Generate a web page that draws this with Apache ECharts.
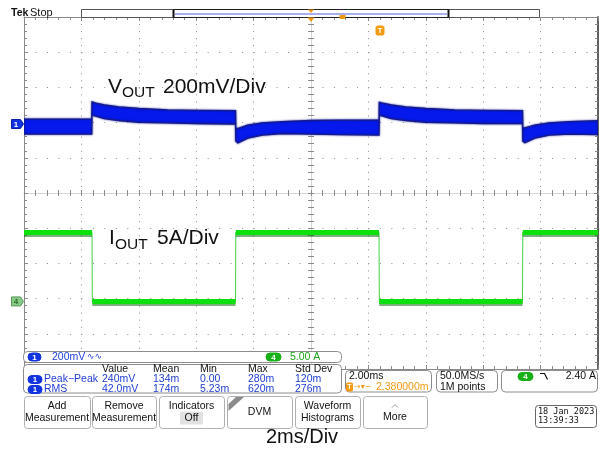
<!DOCTYPE html>
<html><head><meta charset="utf-8">
<script src="https://cdn.jsdelivr.net/npm/echarts@6/dist/echarts.min.js"></script>
<style>html,body{margin:0;padding:0;background:#fff;}#c{width:605px;height:450px;}</style>
</head><body><div id="c"></div><script>
// ---- data (time in ms, VOUT envelope in mV relative to ch1 marker, IOUT in A) ----
const timeMs = [0, 2.36, 2.37, 2.5, 2.8, 3.3, 4.0, 5.0, 6.0, 7.37, 7.38, 7.45, 7.8, 8.3, 9.0, 10.0, 11.0, 12.37, 12.38, 12.5, 12.8, 13.3, 14.0, 15.0, 16.0, 17.37, 17.38, 17.45, 17.8, 18.3, 19.0, 20.0];
const voutHi = [28, 28, 125, 118, 108, 97, 88, 80, 77, 76, -23, -26, -6, 7, 13, 20, 22, 23, 123, 118, 108, 97, 88, 80, 77, 76, -20, -22, -6, 7, 13, 19];
const voutLo = [-57, -57, 51, 45, 30, 20, 10, 6, 3, 0, -97, -108, -80, -63, -54, -57, -60, -63, 51, 45, 30, 20, 10, 6, 3, 2, -97, -106, -80, -63, -57, -60];
const ioutTime = [0, 2.37, 2.38, 7.37, 7.38, 12.37, 12.38, 17.37, 17.38, 20];
const ioutAmp = [9.8, 9.8, 0, 0, 9.8, 9.8, 0, 0, 9.8, 9.8];
const measHeader = ['Value', 'Mean', 'Min', 'Max', 'Std Dev'];
const measPP = ['240mV', '134m', '0.00', '280m', '120m'];
const measRMS = ['42.0mV', '174m', '5.23m', '620m', '276m'];
const buttons = [['Add', 'Measurement'], ['Remove', 'Measurement'], ['Indicators', 'Off'], ['DVM'], ['Waveform', 'Histograms'], ['More']];

const chart = echarts.init(document.getElementById('c'), null, {renderer: 'canvas'});
const GRID = {left: 24, top: 17, width: 574, height: 352};
const GC = '#8a8a8a';

function xAx(pos, inside, offset, lineColor, split) {
  return {type: 'value', min: 0, max: 20, interval: 2, position: pos, offset: offset,
    axisLabel: {show: false},
    axisLine: {show: true, onZero: false, lineStyle: {color: lineColor, width: 1}},
    axisTick: {show: true, inside: inside, length: offset ? 3 : 4, lineStyle: {color: GC}},
    minorTick: {show: true, splitNumber: 5, length: 3, lineStyle: {color: GC}},
    splitLine: {show: !!split, lineStyle: {color: '#8e8e8e', width: 1, type: [1, 6.04]}}};
}
function yAx(pos, inside, offset, lineColor, lw, split) {
  return {type: 'value', min: -5, max: 5, interval: 1, position: pos, offset: offset,
    axisLabel: {show: false},
    axisLine: {show: true, onZero: false, lineStyle: {color: lineColor, width: lw}},
    axisTick: {show: true, inside: inside, length: offset ? 3 : 4, lineStyle: {color: GC}},
    minorTick: {show: true, splitNumber: 5, length: 3, lineStyle: {color: GC}},
    splitLine: {show: !!split, lineStyle: {color: '#8e8e8e', width: 1, type: [1, 10.48]}}};
}

// green thick plateau data with gaps at the edges
const ioutThick = [];
for (let i = 0; i < ioutTime.length; i++) {
  ioutThick.push([ioutTime[i], ioutAmp[i]]);
  if (i < ioutTime.length - 1 && ioutAmp[i + 1] !== ioutAmp[i]) ioutThick.push([ioutTime[i], '-']);
}

const option = {
  animation: false,
  backgroundColor: '#ffffff',
  grid: GRID,
  xAxis: [
    xAx('bottom', true, 0, GC, true),
    xAx('top', true, 0, GC, false),
    xAx('bottom', true, -176, '#d4d4d4', false),
    xAx('bottom', false, -176, '#d4d4d4', false)
  ],
  yAxis: [
    yAx('left', true, 0, GC, 1, true),
    yAx('right', true, 0, '#606060', 2, false),
    yAx('left', true, -287, '#d4d4d4', 1, false),
    yAx('left', false, -287, '#d4d4d4', 1, false),
    {type: 'value', min: -1392, max: 608, show: false},
    {type: 'value', min: -9.6, max: 40.4, show: false}
  ],
  series: [
    {
      type: 'custom', xAxisIndex: 0, yAxisIndex: 4, clip: true, z: 5,
      data: [[timeMs[0], voutHi[0]]],
      renderItem: function (params, api) {
        const pts = [];
        for (let i = 0; i < timeMs.length; i++) pts.push(api.coord([timeMs[i], voutHi[i]]));
        for (let i = timeMs.length - 1; i >= 0; i--) pts.push(api.coord([timeMs[i], voutLo[i]]));
        return {type: 'polygon', shape: {points: pts},
          style: {fill: '#0519ec', stroke: '#141a8e', lineWidth: 1.3, shadowColor: 'rgba(10,20,140,0.8)', shadowBlur: 2}};
      }
    },
    {
      type: 'line', xAxisIndex: 0, yAxisIndex: 5, z: 4, symbol: 'none',
      data: ioutTime.map((t, i) => [t, ioutAmp[i]]),
      lineStyle: {color: '#44d044', width: 1}
    },
    {
      type: 'line', xAxisIndex: 0, yAxisIndex: 5, z: 5, symbol: 'none', connectNulls: false,
      data: ioutThick,
      lineStyle: {color: '#0ee00e', width: 5, shadowColor: 'rgba(20,110,20,0.55)', shadowOffsetY: 2, shadowBlur: 0, cap: 'butt'}
    }
  ]
};
chart.setOption(option);

// ---- overlay / UI graphics ----
const FONT = '"Liberation Sans", Arial, sans-serif';
const BLUE_T = '#1f3ed6';
const ORANGE = '#f39a12';
function T(text, x, y, o) {
  return {type: 'text', z: 120, style: Object.assign({text: text, x: x, y: y, fill: '#000',
    font: '10.5px ' + FONT, align: 'left', verticalAlign: 'middle'}, o || {})};
}
function R(x, y, w, h, o, r) {
  return {type: 'rect', z: 110, shape: {x: x, y: y, width: w, height: h, r: r === undefined ? 3 : r},
    style: Object.assign({fill: '#fff', stroke: '#8c8c8c', lineWidth: 1}, o || {})};
}
function badge(x, y, w, h, fill, label, lcol) {
  return [R(x, y, w, h, {fill: fill, stroke: fill}, h / 2),
    T(label, x + w / 2, y + h / 2 + 0.5, {fill: lcol || '#fff', align: 'center', font: 'bold 8px ' + FONT})];
}

const g = [];
// top status bar
g.push(T('Tek', 11, 13, {font: 'bold 10.5px ' + FONT, fill: '#111'}));
g.push(T('Stop', 30, 13, {font: '11px ' + FONT, fill: '#111'}));
g.push(R(81.5, 9.5, 458, 8, {fill: '#fff', stroke: '#555'}, 0));
g.push(R(173.5, 9.5, 275, 8, {fill: '#fff', stroke: '#222', lineWidth: 1}, 0));
g.push({type: 'line', z: 111, shape: {x1: 173.5, y1: 9.5, x2: 173.5, y2: 17.5}, style: {stroke: '#111', lineWidth: 2}});
g.push({type: 'line', z: 111, shape: {x1: 448.5, y1: 9.5, x2: 448.5, y2: 17.5}, style: {stroke: '#111', lineWidth: 2}});
g.push({type: 'line', z: 111, shape: {x1: 175, y1: 14, x2: 447, y2: 14}, style: {stroke: '#a9aef0', lineWidth: 2}});
g.push({type: 'polygon', z: 112, shape: {points: [[308, 9.5], [314, 9.5], [311, 13]]}, style: {fill: ORANGE}});
g.push({type: 'polygon', z: 112, shape: {points: [[307.5, 17.5], [314.5, 17.5], [311, 22]]}, style: {fill: ORANGE}});
g.push(R(340, 13.5, 5, 5, {fill: ORANGE, stroke: ORANGE}, 1));
g.push(R(376, 26, 8, 9, {fill: ORANGE, stroke: ORANGE}, 1.5));
g.push(T('T', 380, 30.8, {fill: '#fff', align: 'center', font: 'bold 8px ' + FONT}));

// channel markers at each channel's zero
const y1 = chart.convertToPixel({yAxisIndex: 4}, 0);
const y4 = chart.convertToPixel({yAxisIndex: 5}, 0);
g.push({type: 'polygon', z: 112, shape: {points: [[11.5, y1 - 4.5], [20.5, y1 - 4.5], [23.5, y1], [20.5, y1 + 4.5], [11.5, y1 + 4.5]]}, style: {fill: '#1233e0', stroke: '#0a1ea8'}});
g.push(T('1', 16, y1 + 0.5, {fill: '#fff', align: 'center', font: 'bold 8px ' + FONT}));
g.push({type: 'polygon', z: 112, shape: {points: [[11.5, y4 - 4.5], [20.5, y4 - 4.5], [23.5, y4], [20.5, y4 + 4.5], [11.5, y4 + 4.5]]}, style: {fill: '#86cc86', stroke: '#5c985c'}});
g.push(T('4', 16, y4 + 0.5, {fill: '#2d6a2d', align: 'center', font: 'bold 8px ' + FONT}));

// labels on the waveform area
const BIG = '21px ' + FONT;
g.push(T('V', 108, 87, {font: BIG, fill: '#111'}));
g.push(T('OUT', 122, 92.5, {font: '15.5px ' + FONT, fill: '#111'}));
g.push(T('200mV/Div', 163, 87, {font: BIG, fill: '#111'}));
g.push(T('I', 109, 238, {font: BIG, fill: '#111'}));
g.push(T('OUT', 115, 245, {font: '15.5px ' + FONT, fill: '#111'}));
g.push(T('5A/Div', 157, 238, {font: BIG, fill: '#111'}));

// channel strip
g.push(R(23.5, 351.5, 318, 11, {}, 4));
g.push.apply(g, badge(28, 353, 13, 8, '#1233e0', '1'));
g.push(T('200mV', 52, 357.5, {fill: BLUE_T}));
g.push(T('∿∿', 87, 357, {fill: BLUE_T, font: '9px "DejaVu Sans"'}));
g.push.apply(g, badge(266, 353, 15, 8, '#18b018', '4'));
g.push(T('5.00 A', 290, 357.5, {fill: '#1ea51e'}));

// measurement table
g.push(R(23.5, 364.5, 318, 28.5, {}, 4));
const cols = [102, 153, 200, 248, 295];
measHeader.forEach((s, i) => g.push(T(s, cols[i], 369.5, {fill: '#111'})));
g.push.apply(g, badge(28, 375.5, 14, 8, '#1233e0', '1'));
g.push(T('Peak\u2212Peak', 44, 379.5, {fill: BLUE_T}));
measPP.forEach((s, i) => g.push(T(s, cols[i], 379.5, {fill: BLUE_T})));
g.push.apply(g, badge(28, 385.5, 14, 8, '#1233e0', '1'));
g.push(T('RMS', 44, 389.5, {fill: BLUE_T}));
measRMS.forEach((s, i) => g.push(T(s, cols[i], 389.5, {fill: BLUE_T})));

// horizontal / acquisition / trigger boxes
g.push(R(345.5, 370.5, 86, 21.5, {}, 4));
g.push(T('2.00ms', 349, 376.5, {fill: '#111'}));
g.push(R(346.5, 383, 6, 8, {fill: ORANGE, stroke: ORANGE}, 1));
g.push(T('T', 349.5, 387.3, {fill: '#fff', align: 'center', font: 'bold 7px ' + FONT}));
g.push(T('\u2192\u25BE\u2212', 354, 387, {fill: ORANGE, font: '8px "DejaVu Sans"'}));
g.push(T('2.380000m', 376, 387.5, {fill: ORANGE, font: '10.5px ' + FONT}));
g.push(R(436.5, 370.5, 61, 21.5, {}, 4));
g.push(T('50.0MS/s', 440, 376.5, {fill: '#111'}));
g.push(T('1M points', 440, 387.5, {fill: '#111'}));
g.push(R(501.5, 370.5, 96, 21.5, {}, 4));
g.push.apply(g, badge(518, 372.5, 15, 8, '#18b018', '4'));
g.push({type: 'polyline', z: 121, shape: {points: [[540, 373.5], [544.5, 373.5], [547.5, 379.5]]}, style: {stroke: '#111', lineWidth: 1.2, fill: null}});
g.push(T('2.40 A', 596, 376.5, {fill: '#111', align: 'right'}));

// soft-key buttons
const bx = [[24, 90], [92, 156], [159, 224], [227, 292], [295, 360], [363, 427]];
buttons.forEach((b, i) => {
  const x0 = bx[i][0], x1 = bx[i][1], cx = (x0 + x1) / 2;
  g.push(R(x0 + 0.5, 396.5, x1 - x0, 32, {stroke: '#b0b0b0'}, 3));
  if (b.length === 2) {
    if (b[1] === 'Off') g.push(R(cx - 11, 412, 22, 12, {fill: '#e2e2e2', stroke: '#e2e2e2'}, 0));
    g.push(T(b[0], cx, 406.5, {align: 'center', fill: '#111'}));
    g.push(T(b[1], cx, 418, {align: 'center', fill: '#111'}));
  } else if (b[0] === 'More') {
    g.push({type: 'polyline', z: 121, shape: {points: [[392, 407.5], [395, 404.5], [398, 407.5]]}, style: {stroke: '#999', lineWidth: 1, fill: null}});
    g.push(T('More', cx, 417, {align: 'center', fill: '#111'}));
  } else {
    g.push({type: 'polygon', z: 121, shape: {points: [[236, 397], [244, 397], [228.5, 411], [228.5, 404]]}, style: {fill: '#8a8a8a'}});
    g.push(T(b[0], cx, 412, {align: 'center', fill: '#111'}));
  }
});

// date box
g.push(R(535.5, 405.5, 61, 22, {stroke: '#666'}, 3));
g.push(T('18 Jan 2023', 538, 411.5, {fill: '#111', font: '8.5px "DejaVu Sans Mono"'}));
g.push(T('13:39:33', 538, 421, {fill: '#111', font: '8.5px "DejaVu Sans Mono"'}));

// caption
g.push(T('2ms/Div', 302, 437, {align: 'center', font: '20px ' + FONT, fill: '#111'}));

chart.setOption({graphic: g});
</script></body></html>
